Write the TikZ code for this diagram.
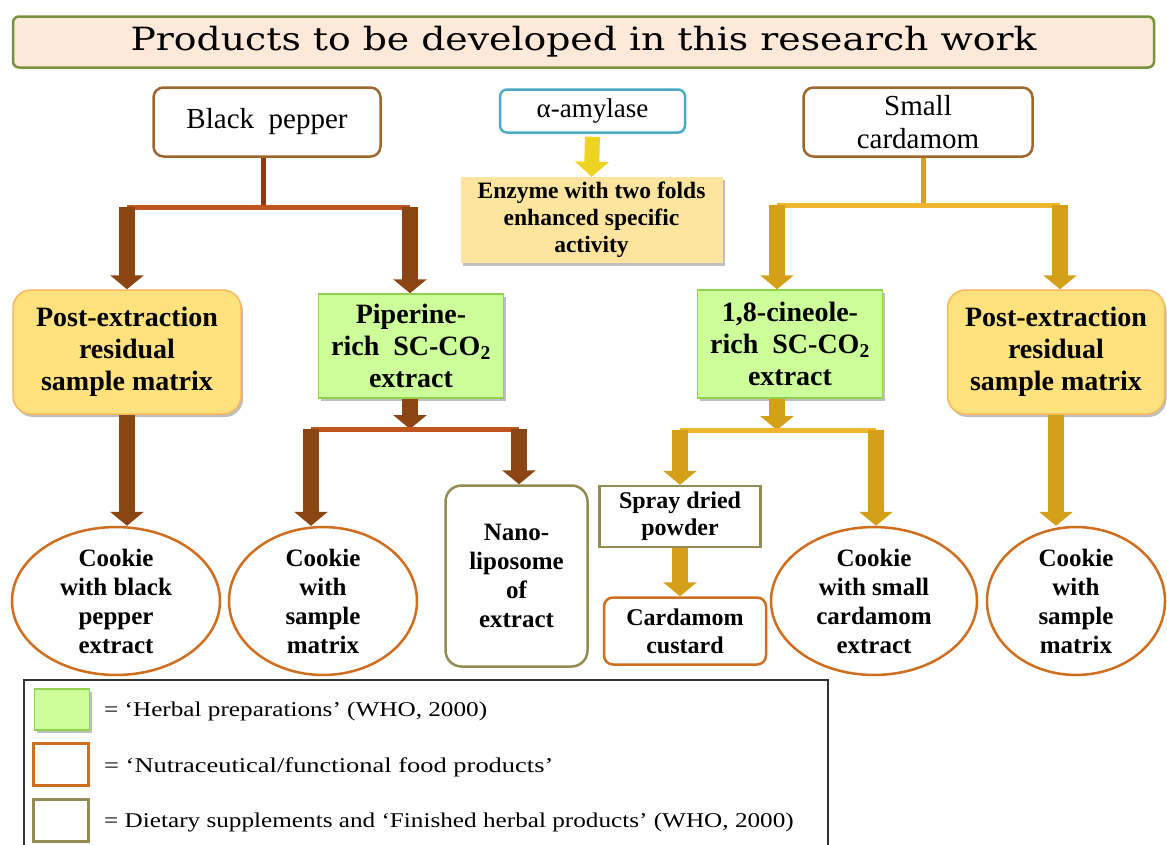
\documentclass[tikz,border=0pt]{standalone}
\usepackage{fontspec}
\setmainfont{Liberation Serif}
\newfontfamily\titlefont{DejaVu Serif}
\usetikzlibrary{arrows.meta,shapes.geometric,shadows}
\definecolor{titlefill}{HTML}{FDE9D9}
\definecolor{titleborder}{HTML}{77933C}
\definecolor{brownbox}{HTML}{A0652F}
\definecolor{bluebox}{HTML}{4BACC6}
\definecolor{enzfill}{HTML}{FDE5A0}
\definecolor{postfill}{HTML}{FFE17D}
\definecolor{postborder}{HTML}{F8B860}
\definecolor{greenfill}{HTML}{CCFF99}
\definecolor{greenborder}{HTML}{92D050}
\definecolor{foodorange}{HTML}{D06E20}
\definecolor{oliveline}{HTML}{948A54}
\definecolor{arrowbrown}{HTML}{8B4513}
\definecolor{barbrown}{HTML}{C0561E}
\definecolor{thinbrown}{HTML}{8B3A10}
\definecolor{arrowgold}{HTML}{D4A017}
\definecolor{bargold}{HTML}{EFB52F}
\definecolor{thingold}{HTML}{D9A21A}
\definecolor{arrowyellow}{HTML}{EED323}
\begin{document}
\begin{tikzpicture}[x=1pt,y=-1pt,
  box/.style={inner sep=0pt, align=center, text=black},
  shade/.style={drop shadow={shadow xshift=2pt, shadow yshift=-3pt, opacity=0.25, fill=black}},
  roottxt/.style={font=\fontsize{29}{34}\selectfont},
  boldtxt/.style={font=\fontsize{25}{29}\selectfont\bfseries},
  bigtxt/.style={font=\fontsize{28}{32}\selectfont\bfseries},
  rootbox/.style={box, roottxt, draw=brownbox, line width=2.5pt, rounded corners=10pt, fill=white},
  postbox/.style={box, bigtxt, fill=postfill, draw=postborder, line width=1.5pt, rounded corners=18pt, shade},
  herbal/.style={box, bigtxt, fill=greenfill, draw=greenborder, line width=1.5pt, shade},
  food/.style={box, boldtxt, draw=foodorange, line width=2.5pt, fill=white},
  suppl/.style={box, boldtxt, draw=oliveline, line width=2.5pt, fill=white},
  cookie/.style={food, ellipse},
  brownarrow/.style={draw=arrowbrown, line width=16pt, -{Triangle[width=33pt,length=14pt]}},
  goldarrow/.style={draw=arrowgold, line width=16pt, -{Triangle[width=33pt,length=14pt]}},
  yellowarrow/.style={draw=arrowyellow, line width=15pt, -{Triangle[width=33pt,length=15pt]}},
  brownbar/.style={draw=barbrown, line width=5pt},
  goldbar/.style={draw=bargold, line width=5pt},
  brownstem/.style={draw=thinbrown, line width=5pt},
  goldstem/.style={draw=thingold, line width=5pt},
  legtxt/.style={anchor=west, inner sep=0pt, font=\fontsize{21}{25}\selectfont}
]
\useasboundingbox (0,0) rectangle (1167,844);
\fill[white] (0,0) rectangle (1167,844);

% title
\node[box, fill=titlefill, draw=titleborder, line width=2.5pt, rounded corners=6pt,
      minimum width=1141pt, minimum height=51pt,
      font=\titlefont\fontsize{32}{36}\selectfont] (title) at (583.5,42) {\scalebox{1.18}[1]{Products to be developed in this research work}};

% top row
\node[rootbox, minimum width=227pt, minimum height=69pt] (bp) at (267,122) {Black\ \ pepper};
\node[box, draw=bluebox, line width=2.5pt, rounded corners=7pt, fill=white,
      minimum width=185pt, minimum height=43pt, font=\fontsize{27}{32}\selectfont] (amy) at (592.5,111) {α-amylase};
\node[rootbox, minimum width=229pt, minimum height=69pt, font=\fontsize{29}{33}\selectfont] (sc) at (918,122) {Small\\cardamom};

\node[box, fill=enzfill, minimum width=262pt, minimum height=86pt, shade,
      font=\fontsize{23.5}{27}\selectfont\bfseries] (enz) at (591.5,220) {Enzyme with two folds\\enhanced specific\\activity};

% second row
\node[postbox, minimum width=228pt, minimum height=124pt] (post1) at (127,352) {Post-extraction\\residual\\sample matrix};
\node[herbal, minimum width=185pt, minimum height=104pt] (pip) at (411,346) {Piperine-\\rich\ \ SC-CO\textsubscript{2}\\extract};
\node[herbal, minimum width=185pt, minimum height=108pt] (cin) at (790,344) {1,8-cineole-\\rich\ \ SC-CO\textsubscript{2}\\extract};
\node[postbox, minimum width=217pt, minimum height=124pt] (post2) at (1056,352) {Post-extraction\\residual\\sample matrix};

% bottom row
\node[cookie, minimum width=208pt, minimum height=128pt] (ell1) at (116,601) {Cookie\\with black\\pepper\\extract};
\node[cookie, minimum width=188pt, minimum height=130pt] (ell2) at (323,601) {Cookie\\with\\sample\\matrix};
\node[suppl, rounded corners=16pt, minimum width=142pt, minimum height=181pt] (nano) at (516.5,576) {Nano-\\liposome\\of\\extract};
\node[suppl, minimum width=161pt, minimum height=61pt, font=\fontsize{24}{27}\selectfont\bfseries] (spray) at (680,516.5) {Spray dried\\powder};
\node[food, rounded corners=9pt, minimum width=162pt, minimum height=67pt, font=\fontsize{24}{28}\selectfont\bfseries] (custard) at (685,631) {Cardamom\\custard};
\node[cookie, minimum width=206pt, minimum height=128pt] (ell3) at (874,601) {Cookie\\with small\\cardamom\\extract};
\node[cookie, minimum width=178pt, minimum height=128pt] (ell4) at (1076,601) {Cookie\\with\\sample\\matrix};

% black pepper connectors
\coordinate (bpj) at (263,207);
\coordinate (bpl) at (127,207);
\coordinate (bpr) at (410,207);
\draw[brownstem] (bpj |- bp.south) -- (bpj);
\draw[brownbar] (bpl) -- (bpr);
\draw[brownarrow] (bpl) -- (post1.north);
\draw[brownarrow] (bpr) -- (bpr |- pip.north);
\coordinate (pj) at (410,429);
\coordinate (pl) at (311,429);
\coordinate (pr) at (519,429);
\draw[brownarrow] (pj |- pip.south) -- (pj);
\draw[brownbar] (pl) -- (pr);
\draw[brownarrow] (pl) -- (pl |- ell2.north);
\draw[brownarrow] (pr) -- (pr |- nano.north);
\draw[brownarrow] (post1.south) -- (post1.south |- ell1.north);

% amylase
\draw[yellowarrow, shorten <=3pt] (amy.south) -- (enz.north);

% cardamom connectors
\coordinate (scj) at (923,205);
\coordinate (scl) at (777,205);
\coordinate (scr) at (1060,205);
\draw[goldstem] (scj |- sc.south) -- (scj);
\draw[goldbar] (scl) -- (scr);
\draw[goldarrow] (scl) -- (scl |- cin.north);
\draw[goldarrow] (scr) -- (scr |- post2.north);
\coordinate (cj) at (777,430);
\coordinate (cl) at (680,430);
\coordinate (cr) at (876,430);
\draw[goldarrow] (cj |- cin.south) -- (cj);
\draw[goldbar] (cl) -- (cr);
\draw[goldarrow] (cl) -- (cl |- spray.north);
\draw[goldarrow] (cr) -- (cr |- ell3.north);
\draw[goldarrow] (spray.south) -- (spray.south |- custard.north);
\draw[goldarrow] (post2.south) -- (post2.south |- ell4.north);

% legend
\draw[black!80, line width=1.3pt] (24,850) -- (24,680) -- (828,680) -- (828,850);
\node[box, fill=greenfill, draw=greenborder, line width=1.5pt, minimum width=55pt, minimum height=41pt, shade] (sw1) at (62,709.5) {};
\node[box, fill=white, draw=foodorange, line width=2.5pt, minimum width=55pt, minimum height=42pt] (sw2) at (61,764.5) {};
\node[box, fill=white, draw=oliveline, line width=2.5pt, minimum width=55pt, minimum height=42pt] (sw3) at (61,820.5) {};
\node[legtxt] (lt1) at (104,711) {\scalebox{1.2}[1]{= ‘Herbal preparations’ (WHO, 2000)}};
\node[legtxt] (lt2) at (104,767) {\scalebox{1.26}[1]{= ‘Nutraceutical/functional food products’}};
\node[legtxt] (lt3) at (104,822) {\scalebox{1.2}[1]{= Dietary supplements and ‘Finished herbal products’ (WHO, 2000)}};
\end{tikzpicture}
\end{document}
